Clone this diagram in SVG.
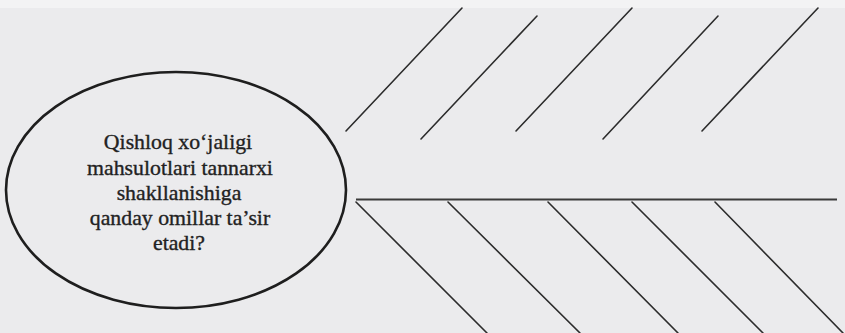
<svg xmlns="http://www.w3.org/2000/svg" width="845" height="333" viewBox="0 0 845 333">
  <style>
    .bg { fill: #ebebed; }
    .node-shape { fill: none; stroke: #1e1e1e; stroke-width: 2.6; }
    .label { font-family: "Liberation Serif", "Times New Roman", serif; font-size: 21.8px; fill: #222222; stroke: #222222; stroke-width: 0.35; text-anchor: middle; }
    .bone { stroke: #2c2c2c; stroke-width: 1.6; fill: none; stroke-linecap: round; }
    .spine { stroke: #3a3a3a; stroke-width: 2; fill: none; }
  </style>
  <rect class="bg" x="0" y="0" width="845" height="333"/>
  <rect x="0" y="0" width="845" height="8" fill="#f3f3f4"/>

  <g id="question">
    <ellipse class="node-shape" cx="176" cy="190" rx="170" ry="118"/>
    <text class="label" x="178" y="149">Qishloq xo‘jaligi</text>
    <text class="label" x="180" y="175">mahsulotlari tannarxi</text>
    <text class="label" x="179" y="200">shakllanishiga</text>
    <text class="label" x="180" y="225">qanday omillar ta’sir</text>
    <text class="label" x="179" y="250">etadi?</text>
  </g>

  <g id="connectors">
    <line class="spine" x1="356" y1="199.5" x2="837" y2="199.5"/>
    <line class="bone" x1="346" y1="131" x2="462" y2="8"/>
    <line class="bone" x1="421" y1="139" x2="537" y2="16"/>
    <line class="bone" x1="516" y1="131" x2="632" y2="8"/>
    <line class="bone" x1="603" y1="139" x2="718" y2="16"/>
    <line class="bone" x1="702" y1="131" x2="818" y2="8"/>
    <line class="bone" x1="356" y1="202" x2="487" y2="333"/>
    <line class="bone" x1="448" y1="202" x2="580" y2="333"/>
    <line class="bone" x1="548" y1="202" x2="678" y2="333"/>
    <line class="bone" x1="632" y1="202" x2="763" y2="333"/>
    <line class="bone" x1="715" y1="202" x2="843" y2="333"/>
  </g>
</svg>
